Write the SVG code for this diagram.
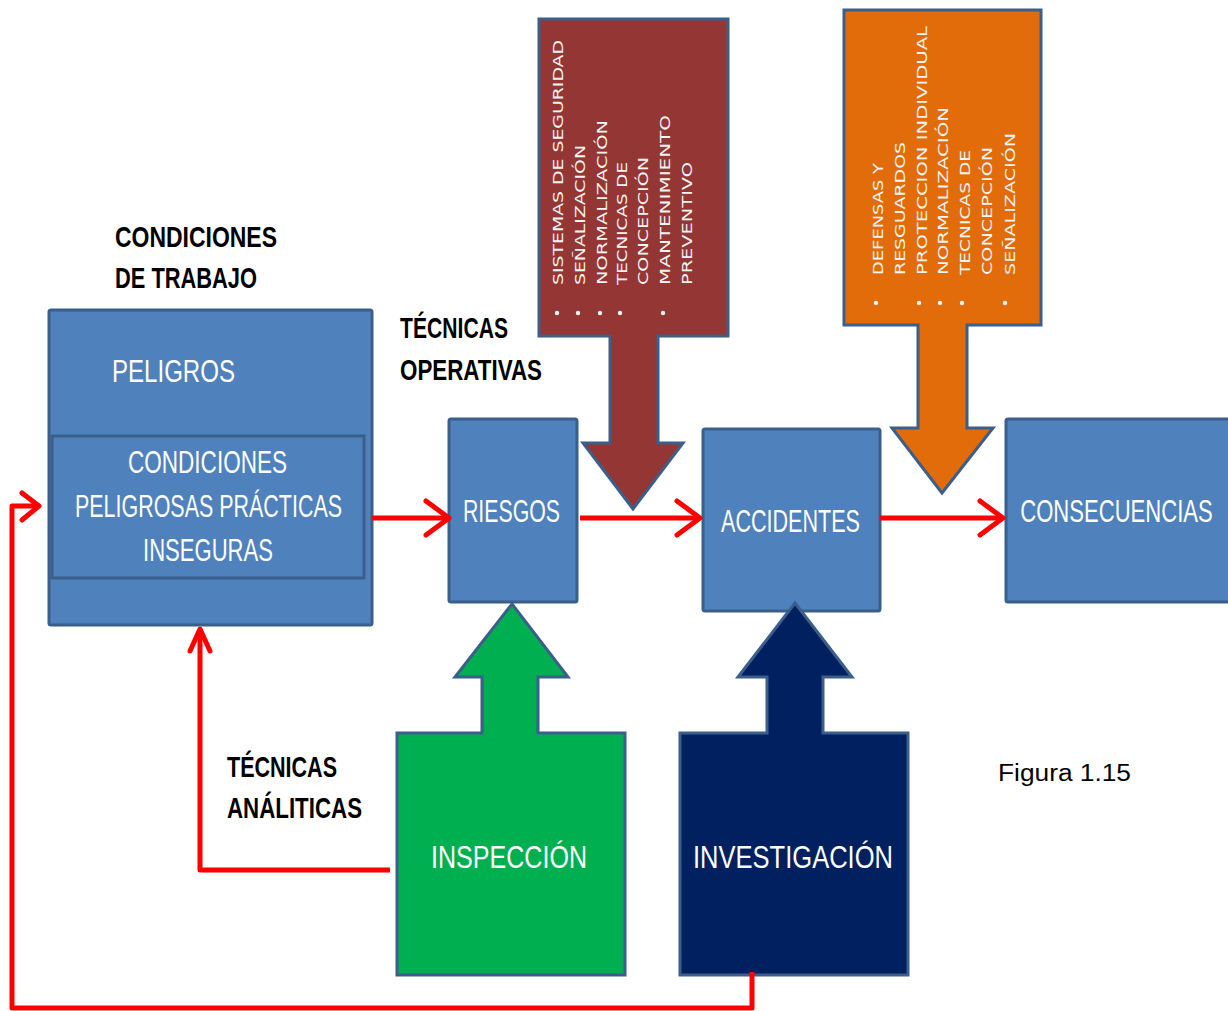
<svg xmlns="http://www.w3.org/2000/svg" width="1228" height="1011" viewBox="0 0 1228 1011">
<style>
.box{fill:#4F81BD;stroke:#3A5F8B;stroke-width:3}
.wt{font-family:"Liberation Sans",Arial,sans-serif;fill:#FFFFFF;font-size:32px;text-anchor:middle}
.bt{font-family:"Liberation Sans",Arial,sans-serif;fill:#000000;font-size:30px;font-weight:bold}
.vt{font-family:"DejaVu Sans","Liberation Sans",sans-serif;fill:#F4F4F4;font-size:14px}
.red{fill:none;stroke:#FF0000;stroke-width:5;stroke-linejoin:round}
.chev{fill:none;stroke:#FF0000;stroke-width:5;stroke-linecap:round;stroke-linejoin:round}
.dot{fill:#F4F4F4}
</style>
<rect width="1228" height="1011" fill="#FFFFFF"/>

<g id="label-condiciones-trabajo">
<text class="bt" x="115" y="247" textLength="162" lengthAdjust="spacingAndGlyphs">CONDICIONES</text>
<text class="bt" x="115" y="288" textLength="142" lengthAdjust="spacingAndGlyphs">DE TRABAJO</text>
</g>
<g id="label-tecnicas-operativas">
<text class="bt" x="400" y="338" textLength="108" lengthAdjust="spacingAndGlyphs">TÉCNICAS</text>
<text class="bt" x="400" y="380" textLength="142" lengthAdjust="spacingAndGlyphs">OPERATIVAS</text>
</g>
<g id="label-tecnicas-analiticas">
<text class="bt" x="227" y="777" textLength="110" lengthAdjust="spacingAndGlyphs">TÉCNICAS</text>
<text class="bt" x="227" y="818" textLength="135" lengthAdjust="spacingAndGlyphs">ANÁLITICAS</text>
</g>
<g id="label-figura">
<text x="998" y="781" font-family="Liberation Sans,Arial,sans-serif" font-size="23" fill="#000000" textLength="133" lengthAdjust="spacingAndGlyphs">Figura 1.15</text>
</g>

<g id="node-peligros">
<rect class="box" x="49" y="310" width="323" height="315" rx="2"/>
<text class="wt" x="173.5" y="382" textLength="123" lengthAdjust="spacingAndGlyphs">PELIGROS</text>
</g>
<g id="node-condiciones-peligrosas">
<rect class="box" x="52" y="436" width="312" height="142"/>
<text class="wt" x="207.5" y="473" font-size="30" textLength="159" lengthAdjust="spacingAndGlyphs">CONDICIONES</text>
<text class="wt" x="208.5" y="517" font-size="30" textLength="267" lengthAdjust="spacingAndGlyphs">PELIGROSAS PRÁCTICAS</text>
<text class="wt" x="208" y="561" font-size="30" textLength="130" lengthAdjust="spacingAndGlyphs">INSEGURAS</text>
</g>
<g id="node-riesgos">
<rect class="box" x="449" y="419" width="128" height="183" rx="2"/>
<text class="wt" x="511.5" y="522" textLength="97" lengthAdjust="spacingAndGlyphs">RIESGOS</text>
</g>
<g id="node-accidentes">
<rect class="box" x="703" y="429" width="177" height="182" rx="2"/>
<text class="wt" x="790.5" y="532" textLength="139" lengthAdjust="spacingAndGlyphs">ACCIDENTES</text>
</g>
<g id="node-consecuencias">
<rect class="box" x="1006" y="419" width="224" height="183" rx="2"/>
<text class="wt" transform="translate(1116.5,522) scale(0.69,1)" x="0" y="0">CONSECUENCIAS</text>
</g>

<g id="node-tecnicas-brown">
<polygon points="539,19 728,19 728,336 658,336 658,443 683,443 633,509 583,443 610,443 610,336 539,336" fill="#943634" stroke="#3A5F8B" stroke-width="3"/>
<text class="vt" transform="translate(563,285) rotate(-90)" textLength="245" lengthAdjust="spacingAndGlyphs">SISTEMAS DE SEGURIDAD</text>
<text class="vt" transform="translate(585,285) rotate(-90)" textLength="140" lengthAdjust="spacingAndGlyphs">SEÑALIZACIÓN</text>
<text class="vt" transform="translate(607,285) rotate(-90)" textLength="165" lengthAdjust="spacingAndGlyphs">NORMALIZACIÓN</text>
<text class="vt" transform="translate(627,285) rotate(-90)" textLength="123" lengthAdjust="spacingAndGlyphs">TECNICAS DE</text>
<text class="vt" transform="translate(648,285) rotate(-90)" textLength="128" lengthAdjust="spacingAndGlyphs">CONCEPCIÓN</text>
<text class="vt" transform="translate(670,285) rotate(-90)" textLength="170" lengthAdjust="spacingAndGlyphs">MANTENIMIENTO</text>
<text class="vt" transform="translate(692,285) rotate(-90)" textLength="123" lengthAdjust="spacingAndGlyphs">PREVENTIVO</text>
<circle class="dot" cx="557" cy="313" r="2.2"/>
<circle class="dot" cx="578" cy="313" r="2.2"/>
<circle class="dot" cx="600" cy="313" r="2.2"/>
<circle class="dot" cx="620" cy="313" r="2.2"/>
<circle class="dot" cx="663" cy="313" r="2.2"/>
</g>

<g id="node-tecnicas-orange">
<polygon points="844,10 1041,10 1041,325 967,325 967,428 993,428 942,493 892,428 918,428 918,325 844,325" fill="#E36C0A" stroke="#3A5F8B" stroke-width="3"/>
<text class="vt" transform="translate(883,275) rotate(-90)" textLength="112" lengthAdjust="spacingAndGlyphs">DEFENSAS Y</text>
<text class="vt" transform="translate(905,275) rotate(-90)" textLength="133" lengthAdjust="spacingAndGlyphs">RESGUARDOS</text>
<text class="vt" transform="translate(927,275) rotate(-90)" textLength="249" lengthAdjust="spacingAndGlyphs">PROTECCION INDIVIDUAL</text>
<text class="vt" transform="translate(948,275) rotate(-90)" textLength="168" lengthAdjust="spacingAndGlyphs">NORMALIZACIÓN</text>
<text class="vt" transform="translate(970,275) rotate(-90)" textLength="125" lengthAdjust="spacingAndGlyphs">TECNICAS DE</text>
<text class="vt" transform="translate(992,275) rotate(-90)" textLength="128" lengthAdjust="spacingAndGlyphs">CONCEPCIÓN</text>
<text class="vt" transform="translate(1015,275) rotate(-90)" textLength="142" lengthAdjust="spacingAndGlyphs">SEÑALIZACIÓN</text>
<circle class="dot" cx="876" cy="303" r="2.2"/>
<circle class="dot" cx="919" cy="303" r="2.2"/>
<circle class="dot" cx="940" cy="303" r="2.2"/>
<circle class="dot" cx="962" cy="303" r="2.2"/>
<circle class="dot" cx="1005" cy="303" r="2.2"/>
</g>

<g id="node-inspeccion">
<polygon points="397,733 482,733 482,677 455,677 512,604 568,677 538,677 538,733 625,733 625,975 397,975" fill="#00B050" stroke="#3A5F8B" stroke-width="3"/>
<text class="wt" x="509" y="868" textLength="156" lengthAdjust="spacingAndGlyphs">INSPECCIÓN</text>
</g>
<g id="node-investigacion">
<polygon points="680,733 767,733 767,677 738,677 795,603 852,677 823,677 823,733 908,733 908,975 680,975" fill="#002060" stroke="#3A5F8B" stroke-width="3"/>
<text class="wt" x="793" y="868" textLength="200" lengthAdjust="spacingAndGlyphs">INVESTIGACIÓN</text>
</g>

<g id="connectors">
<line class="red" x1="372" y1="518" x2="449" y2="518"/>
<polyline class="chev" points="426,501 449,518 426,535"/>
<line class="red" x1="580" y1="518" x2="700" y2="518"/>
<polyline class="chev" points="677,501 700,518 677,535"/>
<line class="red" x1="880" y1="518" x2="1003" y2="518"/>
<polyline class="chev" points="980,501 1003,518 980,535"/>
<polyline class="red" points="390,870 200,870 200,629"/>
<polyline class="chev" points="190,651 200,629 210,651"/>
<polyline class="red" points="752,972 752,1008 12,1008 12,506 38,506"/>
<polyline class="chev" points="22,493 39,506 22,520"/>
</g>
</svg>
